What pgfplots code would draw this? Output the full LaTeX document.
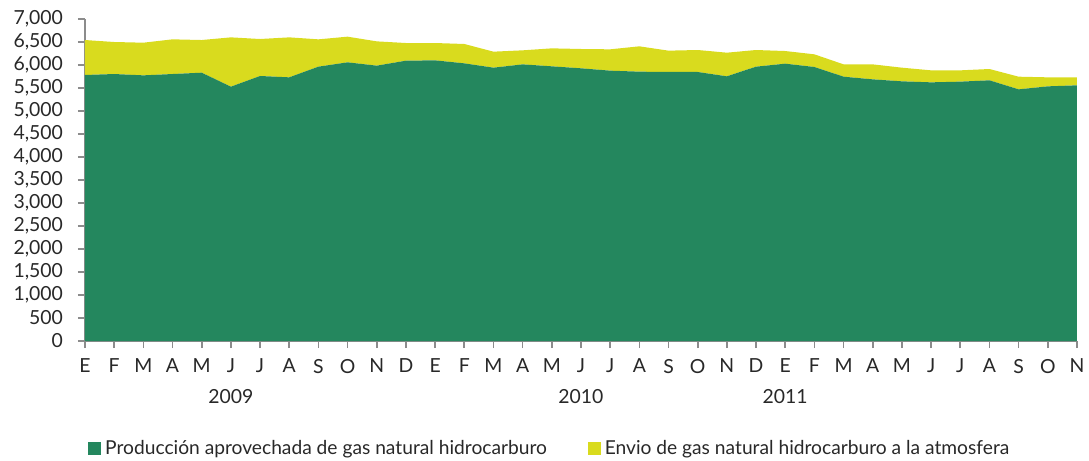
\documentclass[border=0pt]{standalone}
\usepackage{pgfplots}
\usepackage{pgfplotstable}
\pgfplotsset{compat=1.18}
\usepackage{fontspec}
\setmainfont{Lato}
\definecolor{gverde}{RGB}{36,135,94}
\definecolor{gamar}{RGB}{217,219,30}
\definecolor{ejegris}{RGB}{140,140,140}
\definecolor{texto}{RGB}{40,40,40}
\pgfplotstableread{
x prod envio
0 5783 760
1 5804 696
2 5775 710
3 5804 754
4 5833 710
5 5529 1072
6 5761 804
7 5732 869
8 5964 594
9 6058 558
10 5986 528
11 6094 384
12 6101 377
13 6036 421
14 5942 348
15 6014 305
16 5971 391
17 5928 420
18 5877 464
19 5855 551
20 5848 464
21 5848 478
22 5754 514
23 5964 362
24 6029 275
25 5957 275
26 5746 268
27 5688 326
28 5645 297
29 5623 261
30 5638 246
31 5667 246
32 5471 275
33 5536 196
34 5558 174
}\datos
\begin{document}
\begin{tikzpicture}[font=\fontsize{9.7}{11.5}\selectfont, text=texto]
\begin{axis}[
  at={(0,0)}, anchor=south west,
  scale only axis, width=496pt, height=161pt,
  xmin=0, xmax=34, ymin=0, ymax=7000,
  axis x line*=bottom, axis y line*=left,
  axis line style={ejegris, line width=0.8pt},
  tick style={ejegris, line width=0.8pt},
  tick align=outside, major tick length=3.5pt,
  xtick={0,...,34},
  xticklabels={E,F,M,A,M,J,J,A,S,O,N,D,E,F,M,A,M,J,J,A,S,O,N,D,E,F,M,A,M,J,J,A,S,O,N},
  ytick={0,500,...,7000},
  /pgf/number format/assume math mode=true,
  /pgf/number format/1000 sep={,},
  yticklabel style={xshift=-4pt},
  xticklabel style={yshift=-2pt},
  stack plots=y,
  clip=false,
  legend style={at={(axis description cs:0.003,-0.335)}, anchor=west, draw=none, fill=none,
    legend columns=2, /tikz/every even column/.append style={column sep=18.5pt},
    font=\fontsize{9.6}{11.5}\selectfont, inner sep=0pt},
  legend cell align=left,
  legend image code/.code={\fill[#1] (0pt,-3.2pt) rectangle (6.4pt,3.2pt);},
]
\addplot[fill=gverde, draw=none] table[x=x,y=prod]{\datos} \closedcycle;
\addlegendentry{Producción aprovechada de gas natural hidrocarburo}
\addplot[fill=gamar, draw=none] table[x=x,y=envio]{\datos} \closedcycle;
\addlegendentry{Envio de gas natural hidrocarburo a la atmosfera}
\node[anchor=base] at (axis cs:5,0) [yshift=-31pt] {2009};
\node[anchor=base] at (axis cs:17,0) [yshift=-31pt] {2010};
\node[anchor=base] at (axis cs:24,0) [yshift=-31pt] {2011};
\end{axis}
\pgfresetboundingbox
\path[use as bounding box] (-42.5pt,-60pt) rectangle (502pt,170.5pt);
\end{tikzpicture}
\end{document}
